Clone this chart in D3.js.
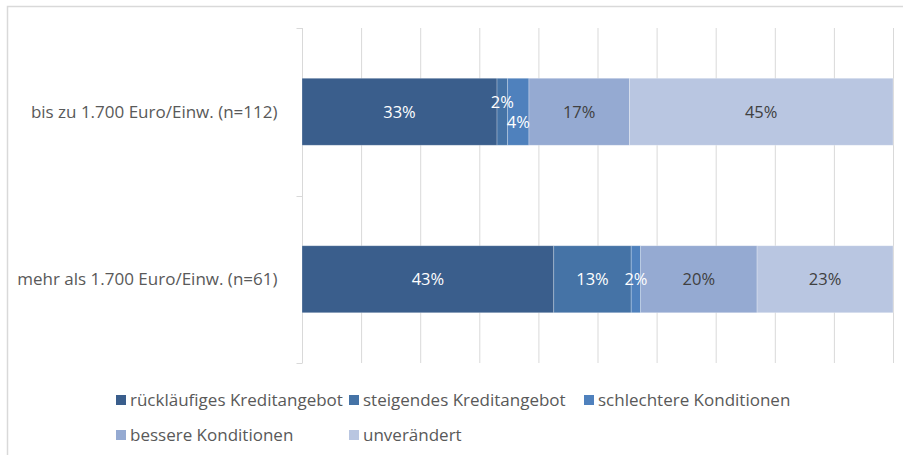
<!DOCTYPE html>
<html>
<head>
<meta charset="utf-8">
<script src="https://cdn.jsdelivr.net/npm/d3@7"></script>
<style>
  body { margin: 0; background: #fff; }
  text { font-family: "Open Sans", sans-serif; }
</style>
</head>
<body>
<div id="chart"></div>
<script>
const width = 903;
const height = 455;

// data (percent)
const categories = ["bis zu 1.700 Euro/Einw. (n=112)", "mehr als 1.700 Euro/Einw. (n=61)"];
const seriesNames = ["rückläufiges Kreditangebot", "steigendes Kreditangebot", "schlechtere Konditionen", "bessere Konditionen", "unverändert"];
const group1 = [33.0, 1.8, 3.6, 17.0, 44.6];
const group2 = [42.6, 13.1, 1.6, 19.7, 23.0];
const xTicks = [0, 10, 20, 30, 40, 50, 60, 70, 80, 90, 100];

const colors = ["#3a5e8c", "#4573a6", "#4f81bd", "#95aad2", "#b9c6e1"];
const labelColors = ["#fff", "#fff", "#fff", "#404040", "#404040"];

const svg = d3.select("#chart").append("svg")
    .attr("width", width)
    .attr("height", height);

// frame
svg.append("path")
    .attr("d", "M7.5," + height + "V6.5H" + width)
    .attr("fill", "none")
    .attr("stroke", "#d9d9d9")
    .attr("stroke-width", 1.5);

const xScale = d3.scaleLinear().domain([0, 100]).range([302, 893]);
const yScale = d3.scaleBand().domain(categories).range([28, 363])
    .paddingInner(0.6).paddingOuter(0.3);

// gridlines
svg.append("g")
    .selectAll("line")
    .data(xTicks)
    .enter()
    .append("line")
    .attr("x1", d => xScale(d) + 0.5)
    .attr("x2", d => xScale(d) + 0.5)
    .attr("y1", 28)
    .attr("y2", 363)
    .attr("stroke", "#d9d9d9")
    .attr("stroke-width", 1);

// category axis
const yaxis = svg.append("g").attr("transform", "translate(302.5,0)");
yaxis.append("line")
    .attr("y1", 28).attr("y2", 363)
    .attr("stroke", "#d9d9d9");
const sep = [28, (yScale(categories[0]) + yScale.bandwidth() + yScale(categories[1])) / 2, 363];
yaxis.selectAll(".tick")
    .data(sep)
    .enter()
    .append("line")
    .attr("x1", -6).attr("x2", 0)
    .attr("y1", d => Math.round(d) + 0.5).attr("y2", d => Math.round(d) + 0.5)
    .attr("stroke", "#d9d9d9");

yaxis.selectAll(".label")
    .data(categories)
    .enter()
    .append("text")
    .attr("x", -25)
    .attr("y", d => yScale(d) + yScale.bandwidth() / 2)
    .attr("dy", "0.35em")
    .attr("text-anchor", "end")
    .attr("fill", "#595959")
    .style("font-size", "17px")
    .text(d => d);

// stacked bars
const rows = [group1, group2].map(function(vals, i) {
    let acc = 0;
    return vals.map(function(v, j) {
        const seg = { cat: categories[i], key: j, x0: acc, x1: acc + v, value: v };
        acc += v;
        return seg;
    });
});

// stagger labels of neighbouring narrow segments
rows.forEach(function(segs) {
    segs.forEach(function(s, j) {
        s.dy = 0;
        const w = xScale(s.x1) - xScale(s.x0);
        const prev = segs[j - 1], next = segs[j + 1];
        const narrow = d => d && (xScale(d.x1) - xScale(d.x0)) < 25;
        if (w < 25 && (narrow(prev) || narrow(next))) {
            s.dy = narrow(next) ? -10 : 10;
        }
    });
});

const bars = svg.selectAll(".bar")
    .data(rows)
    .enter()
    .append("g");

bars.selectAll("rect")
    .data(d => d)
    .enter()
    .append("rect")
    .attr("x", d => xScale(d.x0))
    .attr("width", d => xScale(d.x1) - xScale(d.x0))
    .attr("y", d => yScale(d.cat))
    .attr("height", yScale.bandwidth())
    .attr("fill", d => colors[d.key])
    .attr("stroke", "#fff")
    .attr("stroke-opacity", 0.35)
    .attr("stroke-width", 0.75);

bars.selectAll("text")
    .data(d => d)
    .enter()
    .append("text")
    .attr("x", d => (xScale(d.x0) + xScale(d.x1)) / 2)
    .attr("y", d => yScale(d.cat) + yScale.bandwidth() / 2 + d.dy)
    .attr("dy", "0.35em")
    .attr("text-anchor", "middle")
    .attr("fill", d => labelColors[d.key])
    .style("font-size", "16.5px")
    .text(d => Math.round(d.value) + "%");

// legend
const legendCols = [116, 349, 584];
const legendRows = [400, 435];
const legend = svg.selectAll(".legend")
    .data(seriesNames)
    .enter()
    .append("g")
    .attr("transform", (d, i) => "translate(" + legendCols[i % 3] + "," + legendRows[Math.floor(i / 3)] + ")");

legend.append("rect")
    .attr("x", 0).attr("y", -5)
    .attr("width", 10).attr("height", 10)
    .attr("fill", (d, i) => colors[i]);

legend.append("text")
    .attr("x", 14)
    .attr("dy", "0.35em")
    .attr("fill", "#595959")
    .style("font-size", "17px")
    .text(d => d);
</script>
</body>
</html>
